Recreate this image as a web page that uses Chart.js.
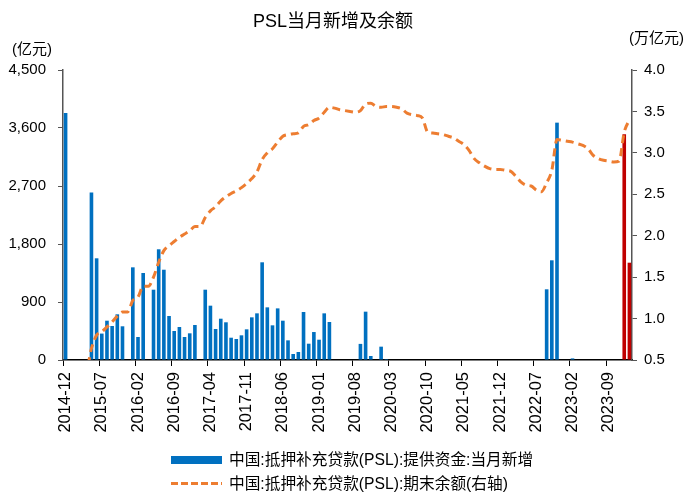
<!DOCTYPE html>
<html>
<head>
<meta charset="utf-8">
<title>PSL当月新增及余额</title>
<script src="https://cdn.jsdelivr.net/npm/chart.js@4.4.0/dist/chart.umd.min.js"></script>
<style>
  body { margin: 0; background: #fff; }
  #wrap { position: relative; width: 688px; height: 493px; font-family: "Liberation Sans", Arial, "Noto Sans CJK SC", sans-serif; color: #000; }
  #wrap canvas { position: absolute; left: 0; top: 0; }
  .txt { position: absolute; white-space: nowrap; line-height: 1; }
  .title { left: 0; width: 666px; top: 12px; text-align: center; font-size: 18px; }
  .unit { font-size: 15px; }
  .legend { position: absolute; left: 171px; font-size: 15.7px; line-height: 1; white-space: nowrap; }
  .legend span { display: inline-block; vertical-align: middle; }
  .boxBar { width: 51px; height: 8px; background: #0070C0; margin-right: 7px; }
  .boxLine { width: 51px; height: 3px; margin-right: 7px;
    background: repeating-linear-gradient(to right, #ED7D31 0 7px, transparent 7px 10px); }
</style>
</head>
<body>
<div id="wrap">
  <canvas id="myChart" width="688" height="493"></canvas>
  <div class="txt title">PSL当月新增及余额</div>
  <div class="txt unit" style="left:12px; top:41px;">(亿元)</div>
  <div class="txt unit" style="left:629px; top:30px;">(万亿元)</div>
  <div class="legend" style="top:451px;"><span class="boxBar"></span><span>中国:抵押补充贷款(PSL):提供资金:当月新增</span></div>
  <div class="legend" style="top:475px;"><span class="boxLine"></span><span>中国:抵押补充贷款(PSL):期末余额(右轴)</span></div>
</div>
<script>
/******** data */
const months = [
  "2014-12",
  "2015-01", "2015-02", "2015-03", "2015-04", "2015-05", "2015-06", "2015-07", "2015-08", "2015-09", "2015-10", "2015-11", "2015-12",
  "2016-01", "2016-02", "2016-03", "2016-04", "2016-05", "2016-06", "2016-07", "2016-08", "2016-09", "2016-10", "2016-11", "2016-12",
  "2017-01", "2017-02", "2017-03", "2017-04", "2017-05", "2017-06", "2017-07", "2017-08", "2017-09", "2017-10", "2017-11", "2017-12",
  "2018-01", "2018-02", "2018-03", "2018-04", "2018-05", "2018-06", "2018-07", "2018-08", "2018-09", "2018-10", "2018-11", "2018-12",
  "2019-01", "2019-02", "2019-03", "2019-04", "2019-05", "2019-06", "2019-07", "2019-08", "2019-09", "2019-10", "2019-11", "2019-12",
  "2020-01", "2020-02", "2020-03", "2020-04", "2020-05", "2020-06", "2020-07", "2020-08", "2020-09", "2020-10", "2020-11", "2020-12",
  "2021-01", "2021-02", "2021-03", "2021-04", "2021-05", "2021-06", "2021-07", "2021-08", "2021-09", "2021-10", "2021-11", "2021-12",
  "2022-01", "2022-02", "2022-03", "2022-04", "2022-05", "2022-06", "2022-07", "2022-08", "2022-09", "2022-10", "2022-11", "2022-12",
  "2023-01", "2023-02", "2023-03", "2023-04", "2023-05", "2023-06", "2023-07", "2023-08", "2023-09", "2023-10", "2023-11", "2023-12",
  "2024-01"
];

// 当月新增 (亿元)
const newAdded = [
  3831,
  0, 0, 0, 0, 2600, 1578, 410, 610, 528, 709, 523, 0,
  1438, 357, 1350, 0, 1091, 1718, 1401, 683, 450, 512, 357, 414,
  543, 0, 1091, 843, 481, 641, 585, 346, 326, 383, 476, 662,
  724, 1516, 817, 538, 801, 610, 305, 93, 124, 745, 253, 434,
  315, 724, 590, 0, 0, 0, 0, 0, 250, 750, 62, 0,
  207, 15, 0, 0, 0, 0, 0, 0, 0, 0, 0, 0,
  0, 0, 0, 0, 0, 0, 0, 0, 0, 0, 0, 0,
  0, 0, 0, 0, 0, 0, 0, 0, 1097, 1547, 3683, 0,
  0, 25, 0, 0, 0, 0, 0, 0, 0, 0, 0, 3502,
  1510
];

// 期末余额 (万亿元, 右轴)
const balance = [
  0.38,
  0.38, 0.38, 0.38, 0.38, 0.64, 0.80, 0.84, 0.90, 0.96, 1.03, 1.08, 1.08,
  1.22, 1.26, 1.39, 1.39, 1.50, 1.68, 1.82, 1.88, 1.93, 1.98, 2.02, 2.06,
  2.11, 2.11, 2.22, 2.30, 2.35, 2.42, 2.47, 2.51, 2.54, 2.58, 2.63, 2.69,
  2.77, 2.92, 3.00, 3.05, 3.13, 3.20, 3.22, 3.23, 3.24, 3.32, 3.34, 3.39,
  3.42, 3.49, 3.55, 3.54, 3.52, 3.51, 3.50, 3.49, 3.51, 3.59, 3.60, 3.56,
  3.55, 3.56, 3.56, 3.55, 3.53, 3.48, 3.46, 3.45, 3.42, 3.25, 3.24, 3.23,
  3.22, 3.20, 3.18, 3.14, 3.10, 3.03, 2.93, 2.88, 2.84, 2.81, 2.80, 2.80,
  2.79, 2.78, 2.72, 2.65, 2.61, 2.60, 2.55, 2.53, 2.64, 2.79, 3.16, 3.15,
  3.14, 3.13, 3.11, 3.09, 3.05, 2.97, 2.93, 2.91, 2.90, 2.89, 2.90, 3.25,
  3.40
];

// 红色标出的最近两个月
const highlightMonths = ["2023-12", "2024-01"];

const leftTicks = [0, 900, 1800, 2700, 3600, 4500];
const rightTicks = [0.5, 1.0, 1.5, 2.0, 2.5, 3.0, 3.5, 4.0];
const labelEvery = 7;

/******** chart */
Chart.defaults.font.family = "'Liberation Sans', Arial, 'Noto Sans CJK SC', sans-serif";
Chart.defaults.font.size = 15;
Chart.defaults.color = "#000";

const barColors = months.map((m) => (highlightMonths.includes(m) ? "#C00000" : "#0070C0"));
const tickMarkColor = (c) => (c.index % labelEvery === 0 ? "#000" : "rgba(0,0,0,0)");

const ctx = document.getElementById("myChart");
new Chart(ctx, {
  type: "bar",
  data: {
    labels: months,
    datasets: [
      {
        label: "中国:抵押补充贷款(PSL):期末余额(右轴)",
        type: "line",
        data: balance,
        yAxisID: "y1",
        borderColor: "#ED7D31",
        borderWidth: 3,
        borderDash: [8, 5],
        pointRadius: 0,
        cubicInterpolationMode: "monotone",
        order: 0,
      },
      {
        label: "中国:抵押补充贷款(PSL):提供资金:当月新增",
        data: newAdded,
        yAxisID: "y",
        backgroundColor: barColors,
        barPercentage: 0.7,
        categoryPercentage: 1,
        order: 1,
      },
    ],
  },
  options: {
    responsive: false,
    animation: false,
    devicePixelRatio: 1,
    locale: "en-US",
    layout: { padding: { top: 70, left: 0, right: 0, bottom: 0 } },
    plugins: {
      legend: { display: false },
      tooltip: { enabled: false },
    },
    scales: {
      x: {
        offset: true,
        grid: {
          offset: true,
          drawOnChartArea: false,
          drawTicks: true,
          tickLength: 6,
          color: tickMarkColor,
          tickColor: tickMarkColor,
        },
        border: { display: true, color: "#000", width: 1.5 },
        ticks: {
          autoSkip: false,
          minRotation: 90,
          maxRotation: 90,
          padding: 6,
          font: { size: 16.5 },
          callback: function (value, index) {
            return index % labelEvery === 0 ? months[index] : "";
          },
        },
        afterFit: (scale) => {
          scale.height = 133;
        },
      },
      y: {
        position: "left",
        min: 0,
        max: 4500,
        afterBuildTicks: (scale) => {
          scale.ticks = leftTicks.map((v) => ({ value: v }));
        },
        grid: { drawOnChartArea: false, tickLength: 5, color: "#555" },
        border: { display: true, color: "#555", width: 1.5 },
        ticks: { padding: 12 },
        afterFit: (scale) => {
          scale.width = 63;
        },
      },
      y1: {
        position: "right",
        min: 0.5,
        max: 4.0,
        afterBuildTicks: (scale) => {
          scale.ticks = rightTicks.map((v) => ({ value: v }));
        },
        grid: { drawOnChartArea: false, tickLength: 5, color: "#555" },
        border: { display: true, color: "#555", width: 1.5 },
        ticks: {
          padding: 7,
          callback: (v) => v.toFixed(1),
        },
        afterFit: (scale) => {
          scale.width = 56;
        },
      },
    },
  },
});
</script>
</body>
</html>
